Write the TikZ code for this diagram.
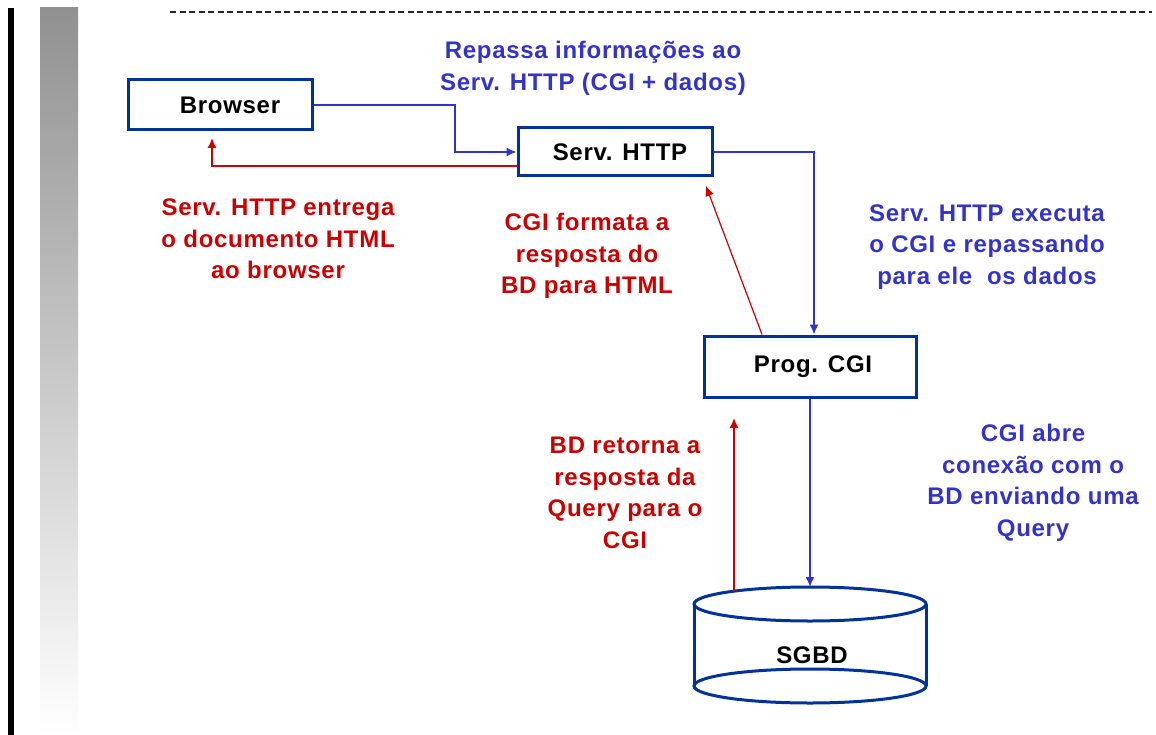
\documentclass[tikz,border=0pt]{standalone}
\usepackage{fontspec}
\setmainfont{Liberation Sans}[LetterSpace=3]
\usetikzlibrary{arrows.meta,calc}
\definecolor{boxblue}{RGB}{0,51,153}
\definecolor{lblue}{RGB}{51,51,204}
\definecolor{lred}{RGB}{204,0,0}
\definecolor{barg}{RGB}{145,145,145}
\begin{document}
\begin{tikzpicture}[x=1pt,y=-1pt,
  box/.style={draw=boxblue,line width=3pt,fill=white,inner sep=0pt,
    font=\fontsize{24}{28}\selectfont\bfseries},
  bluetxt/.style={text=lblue,align=center,font=\fontsize{24}{31.5}\selectfont\bfseries},
  redtxt/.style={text=lred,align=center,font=\fontsize{24}{31.5}\selectfont\bfseries},
  blueline/.style={draw=lblue,line width=1.5pt,-{Latex[length=10pt,width=9pt]}},
  redline/.style={draw=lred,line width=1.5pt,-{Latex[length=10pt,width=9pt]}},
  dbline/.style={draw=boxblue,line width=3pt}]
\useasboundingbox (0,0) rectangle (1156,735);
\fill[white] (0,0) rectangle (1156,735);
% left decorations
\fill[black] (8,8) rectangle (14,735);
\shade[top color=barg,bottom color=white] (40,8) rectangle (78,735);
\draw[black!85,line width=2.2pt,dash pattern=on 6pt off 3.5pt] (170,12) -- (1152,12);
% boxes
\node[box,minimum width=184pt,minimum height=50pt,text width=174pt,align=center] (br) at (220,105) {\hspace*{20pt}Browser};
\node[box,minimum width=194pt,minimum height=48pt] (sh) at (615,152) {\hspace*{10pt}Serv. HTTP};
\node[box,minimum width=212pt,minimum height=61pt] (cg) at (810,366.5) {\hspace*{6pt}Prog. CGI};
% database cylinder
\node[inner sep=0pt,minimum width=232pt,minimum height=116pt] (db) at (810,645) {};
\draw[dbline] (db.center) ++(0,-41) ellipse [x radius=116pt,y radius=17pt];
\draw[dbline] (db.center) ++(0,41) ellipse [x radius=116pt,y radius=17pt];
\draw[dbline] ($(db.center)+(-116,-41)$) -- ($(db.center)+(-116,41)$);
\draw[dbline] ($(db.center)+(116,-41)$) -- ($(db.center)+(116,41)$);
\node[font=\fontsize{24}{28}\selectfont\bfseries] (dbt) at (812,655) {SGBD};
\coordinate (dbtop) at (810,587);
\coordinate (dbred) at (734,591);
% free ends
\coordinate (k1) at (455,0);
\coordinate (r1) at (212,138);
\coordinate (r2) at (706,186);
\coordinate (r3) at (734,418);
% connectors
\draw[blueline] (br.east) -- (br.east -| k1) |- (sh.west);
\draw[redline] ([yshift=-14pt]sh.west) -| (r1);
\draw[blueline] (sh.east) -| ([xshift=4pt]cg.north);
\draw[redline,line width=1.2pt] ([xshift=-48pt]cg.north) -- (r2);
\draw[blueline] (cg.south) -- (dbtop);
\draw[redline] (dbred) -- (r3);
% labels
\node[bluetxt] (t1) at (593,68.5) {Repassa informações ao\\Serv. HTTP (CGI + dados)};
\node[redtxt] (t2) at (278,239) {Serv. HTTP entrega\\o documento HTML\\ao browser};
\node[redtxt] (t3) at (587,256) {CGI formata a\\resposta do\\BD para HTML};
\node[bluetxt] (t4) at (987,247) {Serv. HTTP executa\\o CGI e repassando\\para ele \ os dados};
\node[redtxt] (t5) at (625,493) {BD retorna a\\resposta da\\Query para o\\CGI};
\node[bluetxt] (t6) at (1033,483) {CGI abre\\conexão com o\\BD enviando uma\\Query};
\end{tikzpicture}
\end{document}
